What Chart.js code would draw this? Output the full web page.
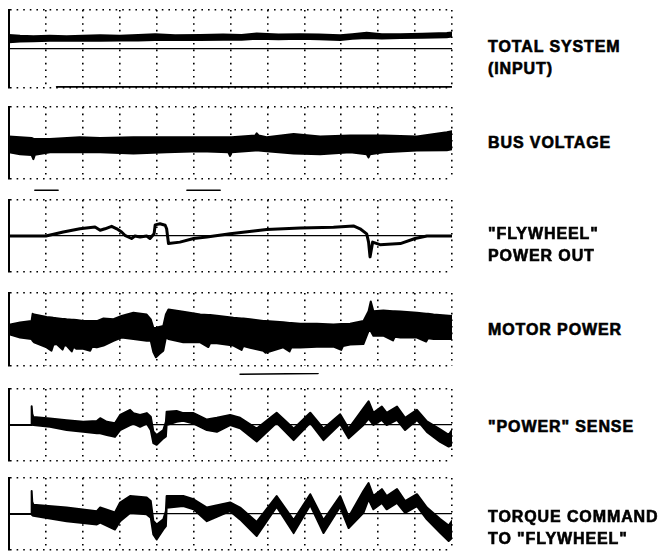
<!DOCTYPE html>
<html><head><meta charset="utf-8">
<script src="https://cdn.jsdelivr.net/npm/chart.js@4.4.1/dist/chart.umd.min.js"></script>
<style>
html,body{margin:0;padding:0;background:#fff;width:666px;height:552px;overflow:hidden;}
#wrap{position:relative;width:666px;height:552px;}
.pc{position:absolute;left:0;}
.lbl{position:absolute;left:488px;font:bold 16px "Liberation Sans",Arial,sans-serif;letter-spacing:0.9px;line-height:22px;color:#000;white-space:nowrap;-webkit-text-stroke:0.6px #000;}
</style></head><body><div id="wrap"></div>
<script>
// ---- labels ----
const panelLabels = [
  ["TOTAL SYSTEM", "(INPUT)"],
  ["BUS VOLTAGE"],
  ['"FLYWHEEL"', "POWER OUT"],
  ["MOTOR POWER"],
  ['"POWER" SENSE'],
  ["TORQUE COMMAND", 'TO "FLYWHEEL"']
];

// ---- data (x in horizontal divisions 0..12, y in vertical divisions -1..1) ----
// Panel 1: total system (input) band
const p1X  = [0,0.3,0.66,1.1,1.56,2.0,2.47,3.0,3.5,3.96,4.5,5.18,5.8,6.3,6.71,7.3,7.89,8.4,8.97,9.3,9.69,10.1,10.6,11.2,11.86,12];
const p1Hi = [0.36,0.34,0.33,0.34,0.33,0.34,0.35,0.34,0.36,0.38,0.35,0.36,0.37,0.36,0.40,0.37,0.38,0.37,0.35,0.38,0.42,0.38,0.38,0.39,0.41,0.42];
const p1Lo = [0.17,0.19,0.20,0.21,0.21,0.22,0.21,0.22,0.22,0.23,0.23,0.23,0.24,0.24,0.26,0.25,0.26,0.25,0.23,0.26,0.28,0.27,0.28,0.29,0.30,0.32];
const p1BaseX = [1.29, 12];
const p1BaseY = [-0.97, -0.97];

// Panel 2: bus voltage band
const p2X  = [0,0.30,0.61,0.66,0.70,1.11,1.92,2.47,3.37,4.27,5.18,5.94,5.99,6.03,6.67,6.71,6.76,6.98,7.71,8.43,9.24,9.69,9.74,9.78,10.15,11.05,11.86,12];
const p2Hi = [0.18,0.16,0.14,0.12,0.11,0.11,0.16,0.14,0.16,0.16,0.16,0.16,0.16,0.16,0.21,0.27,0.21,0.16,0.25,0.18,0.21,0.21,0.21,0.21,0.21,0.18,0.30,0.33];
const p2Lo = [-0.26,-0.31,-0.33,-0.45,-0.33,-0.26,-0.26,-0.26,-0.29,-0.26,-0.23,-0.26,-0.36,-0.26,-0.21,-0.21,-0.21,-0.23,-0.29,-0.31,-0.26,-0.31,-0.40,-0.31,-0.26,-0.21,-0.20,-0.17];

// Panel 3: flywheel power out (single trace)
const p3X = [0,1,1.47,1.92,2.33,2.47,2.6,2.78,2.92,3.05,3.14,3.32,3.41,3.55,3.73,3.82,3.93,3.96,4.09,4.23,4.27,4.32,4.63,5.0,5.36,5.99,6.98,7.89,8.79,9.33,9.51,9.69,9.74,9.78,9.85,10.05,10.6,11.0,11.32,12];
const p3Y = [0,0,0.11,0.2,0.25,0.16,0.2,0.27,0.2,0.11,0.02,-0.07,0,-0.03,0,-0.07,0.06,0.31,0.34,0.3,0.2,-0.21,-0.17,-0.07,-0.03,0.06,0.18,0.22,0.24,0.28,0.2,0.06,-0.17,-0.58,-0.17,-0.24,-0.21,-0.07,0,0];
const p3StrayAX = [0.70, 1.33], p3StrayAY = [1.27, 1.27];
const p3StrayBX = [4.82, 5.72], p3StrayBY = [1.27, 1.27];

// Panel 4: motor power band
const p4X  = [0,0.30,0.61,0.64,0.68,1.02,1.15,1.20,1.29,1.45,1.50,1.56,1.70,1.75,1.83,2.01,2.20,2.25,2.38,2.56,2.83,3.05,3.37,3.73,3.84,3.91,3.98,4.07,4.18,4.25,4.32,4.72,5.18,5.40,5.45,5.63,6.08,6.30,6.35,6.53,6.89,6.95,7.43,7.60,7.65,7.89,8.34,8.79,9.00,9.05,9.24,9.60,9.74,9.80,9.87,10.14,10.40,10.45,10.60,11.05,11.30,11.35,11.50,12];
const p4Hi = [0.13,0.19,0.23,0.43,0.41,0.34,0.33,0.32,0.31,0.29,0.29,0.28,0.27,0.27,0.26,0.23,0.23,0.23,0.23,0.30,0.28,0.37,0.46,0.41,0.28,0.05,0.04,0.07,0.10,0.41,0.55,0.49,0.41,0.40,0.40,0.38,0.32,0.30,0.30,0.28,0.23,0.23,0.20,0.18,0.18,0.16,0.16,0.14,0.15,0.15,0.16,0.23,0.50,0.77,0.50,0.52,0.50,0.50,0.49,0.46,0.43,0.43,0.41,0.37];
const p4Lo = [-0.13,-0.22,-0.26,-0.31,-0.35,-0.49,-0.58,-0.42,-0.40,-0.55,-0.43,-0.44,-0.60,-0.47,-0.53,-0.53,-0.58,-0.47,-0.49,-0.44,-0.31,-0.22,-0.26,-0.31,-0.31,-0.62,-0.76,-0.67,-0.58,-0.22,-0.26,-0.35,-0.35,-0.48,-0.37,-0.38,-0.44,-0.56,-0.45,-0.50,-0.58,-0.64,-0.49,-0.60,-0.49,-0.49,-0.47,-0.47,-0.56,-0.45,-0.41,-0.40,-0.04,-0.04,-0.17,-0.17,-0.30,-0.20,-0.22,-0.22,-0.33,-0.24,-0.26,-0.26];

// Panel 5: "power" sense band
const p5X  = [0,0.605,0.614,0.63,0.66,1.11,1.56,2.01,2.38,2.47,2.65,2.87,3.01,3.28,3.37,3.55,3.73,3.84,3.91,4.00,4.18,4.25,4.27,4.54,4.72,5.00,5.36,5.63,5.99,6.26,6.71,7.25,7.71,8.16,8.52,8.97,9.20,9.60,9.74,9.87,10.10,10.23,10.51,10.73,11.05,11.32,11.68,11.91,12];
const p5Hi = [0,0,0.52,0.31,0.22,0.18,0.13,0.09,0.11,0.19,0.09,0.05,0.28,0.42,0.33,0.28,0.33,0.23,-0.18,-0.28,-0.14,0.09,0.37,0.39,0.33,0.33,0.15,0.20,0.28,0.20,-0.10,0.34,-0.10,0.34,-0.10,0.30,-0.10,0.46,0.66,0.34,0.51,0.34,0.51,0.20,0.42,0.10,-0.12,-0.27,-0.14];
const p5Lo = [0,0,0,0.01,0.0,-0.05,-0.14,-0.19,-0.23,-0.23,-0.28,-0.33,-0.14,0.0,0.04,-0.05,0.04,-0.14,-0.50,-0.55,-0.37,-0.32,0.0,0.09,0.12,0.04,-0.14,-0.19,0.0,-0.09,-0.46,0.06,-0.42,0.06,-0.42,0.03,-0.37,0.0,0.18,0.0,0.14,0.0,0.14,-0.14,0.14,-0.19,-0.47,-0.60,-0.56];
const p5StrayX = [6.26, 8.37], p5StrayY = [1.41, 1.43];

// Panel 6: torque command band
const p6X  = [0,0.605,0.614,0.63,0.66,1.56,2.38,2.47,2.87,3.01,3.28,3.73,3.84,3.91,4.00,4.18,4.25,4.27,4.72,5.00,5.36,5.99,6.26,6.71,7.25,7.71,8.16,8.52,8.97,9.20,9.60,9.74,9.87,10.10,10.23,10.51,10.73,11.05,11.32,11.68,11.91,12];
const p6Hi = [0,0,0.64,0.34,0.26,0.18,0.08,0.18,0.04,0.32,0.50,0.46,0.36,-0.19,-0.29,-0.15,0.08,0.50,0.50,0.41,0.18,0.32,0.18,-0.22,0.50,-0.17,0.55,-0.17,0.50,-0.08,0.64,0.86,0.50,0.69,0.50,0.69,0.36,0.55,0.18,-0.14,-0.32,-0.19];
const p6Lo = [0,0,0,-0.03,-0.05,-0.20,-0.29,-0.24,-0.43,-0.20,0.03,-0.01,-0.10,-0.57,-0.71,-0.43,-0.34,0.17,0.22,0.13,-0.20,0.08,-0.15,-0.61,0.20,-0.53,0.25,-0.53,0.20,-0.39,0.03,0.41,0.13,0.31,0.13,0.31,0.03,0.22,-0.15,-0.52,-0.75,-0.66];

// ---- layout (page pixels) ----
const frames = [
  {top:10,  bottom:88,  label:58},
  {top:107, bottom:179, label:143},
  {top:200, bottom:272, label:244.5},
  {top:293, bottom:366, label:330},
  {top:389, bottom:461, label:427},
  {top:478, bottom:550, label:528}
];
const PLOT_LEFT = 9, PLOT_RIGHT = 452, CANVAS_W = 470, PAD = 16;

const pts = (xs, ys) => xs.map((x, k) => ({x, y: ys[k]}));
const lineDs = (xs, ys, w, extra) => Object.assign({
  data: pts(xs, ys), borderColor:'#000', backgroundColor:'#000',
  borderWidth: w, fill:false, pointRadius:0, tension:0,
  borderJoinStyle:'round', borderCapStyle:'round'
}, extra || {});
const band = (xs, lo, hi) => [
  lineDs(xs, lo, 2),
  lineDs(xs, hi, 2, {fill:'-1'})
];

const panelData = [
  [...band(p1X, p1Lo, p1Hi), lineDs(p1BaseX, p1BaseY, 1.6)],
  band(p2X, p2Lo, p2Hi),
  [lineDs(p3X, p3Y, 3), lineDs(p3StrayAX, p3StrayAY, 1.6, {clip:false}), lineDs(p3StrayBX, p3StrayBY, 1.6, {clip:false})],
  band(p4X, p4Lo, p4Hi),
  [...band(p5X, p5Lo, p5Hi), lineDs(p5StrayX, p5StrayY, 1.6, {clip:false})],
  band(p6X, p6Lo, p6Hi)
];

const wrap = document.getElementById('wrap');
const dotted = [1.6, 5];

panelData.forEach((datasets, i) => {
  const f = frames[i];
  const h = f.bottom - f.top + 2 * PAD;
  const cv = document.createElement('canvas');
  cv.className = 'pc';
  cv.width = CANVAS_W; cv.height = h;
  cv.style.width = CANVAS_W + 'px'; cv.style.height = h + 'px';
  cv.style.top = (f.top - PAD) + 'px';
  wrap.appendChild(cv);
  new Chart(cv, {
    type: 'line',
    data: {datasets},
    options: {
      responsive:false, animation:false, devicePixelRatio:1,
      layout:{padding:{left:PLOT_LEFT, right:CANVAS_W - PLOT_RIGHT, top:PAD, bottom:PAD}},
      plugins:{legend:{display:false}, tooltip:{enabled:false}},
      scales:{
        x:{type:'linear', min:0, max:12,
           ticks:{display:false, stepSize:1},
           grid:{color:'#000', lineWidth:1.6, drawTicks:false},
           border:{display:false, dash:dotted}},
        y:{type:'linear', min:-1, max:1,
           ticks:{display:false, stepSize:1},
           grid:{color:'#000', lineWidth:(c) => (c.tick && c.tick.value === 0) ? 1.3 : 1.6, drawTicks:false},
           border:{display:true, color:'#000', width:2,
                   dash:(c) => (c.tick && c.tick.value === 0) ? [] : dotted}}
      }
    }
  });

  const lines = panelLabels[i];
  const d = document.createElement('div');
  d.className = 'lbl';
  d.style.top = (f.label - lines.length * 11) + 'px';
  d.innerHTML = lines.map(t => t.replace(/&/g,'&amp;').replace(/</g,'&lt;')).join('<br>');
  wrap.appendChild(d);
});
</script>
</body></html>
